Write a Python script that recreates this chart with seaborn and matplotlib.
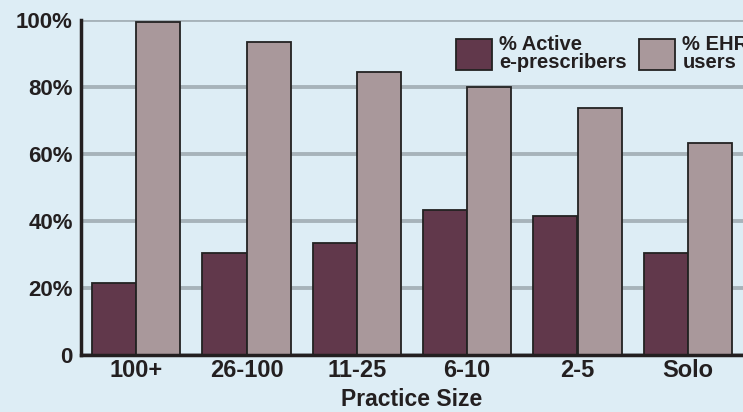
import matplotlib
matplotlib.use("Agg")
import matplotlib.pyplot as plt
import seaborn as sns
import pandas as pd

# Practice-size groups and the two shares shown for each
sizes = ["100+", "26-100", "11-25", "6-10", "2-5", "Solo"]
active_eprescribers = [21.5, 30.5, 33.5, 43.3, 41.6, 30.3]
ehr_users = [99.4, 93.4, 84.5, 79.9, 73.7, 63.4]
series_names = ["% Active e-prescribers", "% EHR users"]
legend_labels = ["% Active\ne-prescribers", "% EHR\nusers"]
y_ticks = [0, 20, 40, 60, 80, 100]
y_tick_labels = ["0", "20%", "40%", "60%", "80%", "100%"]

BG = "#DDEDF5"
INK = "#231F20"
colors = ["#68314A", "#AC9599"]

df = pd.DataFrame({
    "Practice Size": sizes * 2,
    "share": active_eprescribers + ehr_users,
    "series": [series_names[0]] * len(sizes) + [series_names[1]] * len(sizes),
})

sns.set_theme(style="white")
plt.rcParams["font.family"] = ["Liberation Sans", "DejaVu Sans"]

fig = plt.figure(figsize=(7.43, 4.12), dpi=100)
fig.patch.set_facecolor(BG)
ax = fig.add_axes([81 / 743, 1 - 355 / 412, 1 - 81 / 743, 335 / 412])
ax.set_facecolor(BG)

sns.barplot(data=df, x="Practice Size", y="share", hue="series",
            hue_order=series_names, order=sizes, palette=colors,
            width=0.8, edgecolor="#222222", linewidth=1.3, ax=ax, zorder=3)

ax.set_xlim(-0.5, 5.5)
ax.set_ylim(0, 100)
ax.set_yticks(y_ticks)
ax.set_yticklabels(y_tick_labels, fontweight="bold", fontsize=16, color=INK)
ax.tick_params(axis="y", length=0, pad=6)
ax.tick_params(axis="x", length=0, pad=3)
for lbl in ax.get_xticklabels():
    lbl.set_fontweight("bold")
    lbl.set_fontsize(17)
    lbl.set_color(INK)

ax.yaxis.grid(True, color="#A7B3BA", linewidth=2.8, zorder=0)
ax.set_axisbelow(True)
for side in ["top", "right"]:
    ax.spines[side].set_visible(False)
for side in ["left", "bottom"]:
    ax.spines[side].set_color(INK)
    ax.spines[side].set_linewidth(2.5)
    ax.spines[side].set_zorder(4)

ax.set_ylabel("")
ax.set_xlabel("Practice Size", fontsize=16.5, fontweight="bold",
              color=INK, labelpad=4.5)

handles, _ = ax.get_legend_handles_labels()
ax.legend(handles, legend_labels, ncol=2, frameon=False,
          loc="upper left", bbox_to_anchor=(456 / 743, 1 - 35 / 412),
          bbox_transform=fig.transFigure, borderpad=0, borderaxespad=0,
          handlelength=1.8, handleheight=2.0, handletextpad=0.35,
          columnspacing=0.6, labelspacing=0.2,
          prop={"weight": "bold", "size": 14.5})
for t in ax.get_legend().get_texts():
    t.set_color(INK)
    t.set_linespacing(0.95)

fig.savefig("out.png", dpi=100, facecolor=BG)
